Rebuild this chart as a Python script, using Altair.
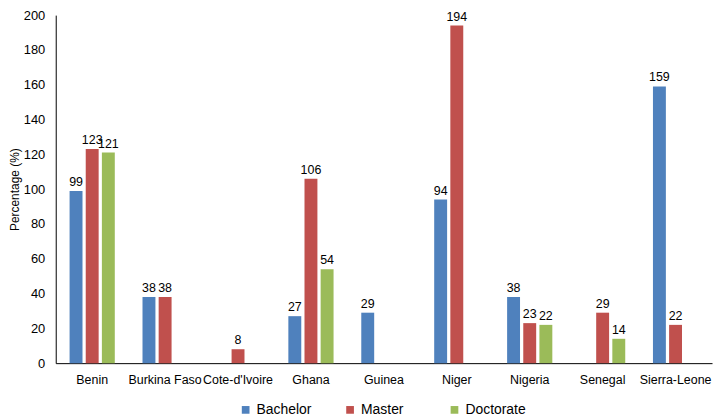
import altair as alt
import pandas as pd

countries = ["Benin", "Burkina Faso", "Cote-d'Ivoire", "Ghana", "Guinea",
             "Niger", "Nigeria", "Senegal", "Sierra-Leone"]
series = ["Bachelor", "Master", "Doctorate"]
bachelor = [99, 38, None, 27, 29, 94, 38, None, 159]
master = [123, 38, 8, 106, None, 194, 23, 29, 22]
doctorate = [121, None, None, 54, None, None, 22, 14, None]
y_ticks = [0, 20, 40, 60, 80, 100, 120, 140, 160, 180, 200]
colors = ["#4f81bd", "#c0504d", "#9bbb59"]

rows = []
for s, vals in zip(series, [bachelor, master, doctorate]):
    for c, v in zip(countries, vals):
        if v is not None:
            rows.append({"Country": c, "Degree": s, "Value": v})
df = pd.DataFrame(rows)

FONT = "Liberation Sans"

x = alt.X("Country:N", sort=countries, title=None,
          scale=alt.Scale(paddingInner=0.38, paddingOuter=0.19),
          axis=alt.Axis(labelAngle=0, ticks=False, domainColor="black",
                        labelFontSize=12.5, labelColor="black", labelPadding=10,
                        labelFont=FONT, labelOverlap=False))
xo = alt.XOffset("Degree:N", sort=series,
                 scale=alt.Scale(domain=series, paddingInner=0.2))
y_axis = alt.Axis(values=y_ticks, grid=False, ticks=False,
                  domainColor="black", labelFontSize=13, labelColor="black",
                  labelPadding=11, titleFontSize=12, titleFontWeight="normal",
                  titleColor="black", titleFont=FONT, labelFont=FONT,
                  titlePadding=2, labelOverlap=False)

base = alt.Chart(df).encode(x=x, xOffset=xo)

bars = base.mark_bar().encode(
    y=alt.Y("Value:Q", title="Percentage (%)",
            scale=alt.Scale(domain=[0, 200]), axis=y_axis),
    color=alt.Color("Degree:N", sort=series,
                    scale=alt.Scale(domain=series, range=colors),
                    legend=alt.Legend(title=None, orient="none", direction="horizontal",
                                      legendX=184, legendY=390,
                                      symbolType="square", symbolSize=60,
                                      symbolStrokeWidth=0, labelFontSize=14,
                                      labelFont=FONT, labelColor="black",
                                      gridAlign="all", columnPadding=26)),
)

labels = base.mark_text(dy=-9, fontSize=12.5, font=FONT, color="black").encode(
    y=alt.Y("Value:Q", axis=None), text="Value:Q"
)

chart = (bars + labels).resolve_axis(y="independent").properties(
    width=660, height=350,
    autosize=alt.AutoSizeParams(type="none"),
    padding={"left": 48, "top": 6, "right": 4, "bottom": 54},
).configure_view(stroke=None)

chart.save("out.html", embed_options={"renderer": "svg", "actions": False})
